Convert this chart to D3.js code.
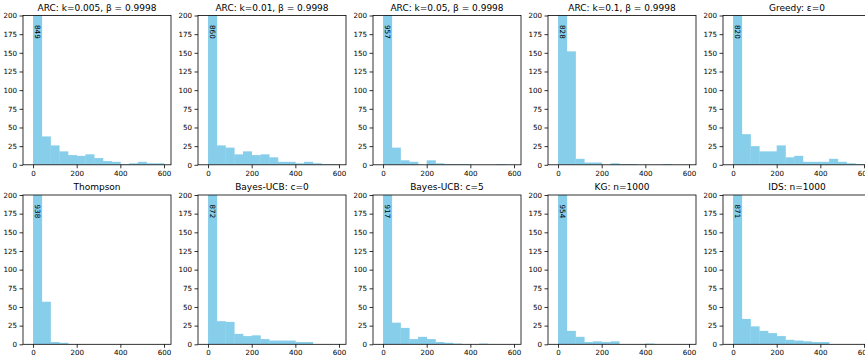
<!DOCTYPE html>
<html><head><meta charset="utf-8">
<script src="https://cdn.jsdelivr.net/npm/d3@7"></script>
<style>body{margin:0;background:#fff}svg{display:block}</style>
</head><body>
<script>
const titles = ["ARC: k=0.005, β = 0.9998","ARC: k=0.01, β = 0.9998","ARC: k=0.05, β = 0.9998","ARC: k=0.1, β = 0.9998","Greedy: ε=0",
                "Thompson","Bayes-UCB: c=0","Bayes-UCB: c=5","KG: n=1000","IDS: n=1000"];
const binEdges = [0,40,80,120,160,200,240,280,320,360,400,440,480,520,560,600];
const counts_arc_0005 = [849,38,26,18,13,12,14,9,5,4,1,2,4,2,2];
const counts_arc_001  = [860,26,23,14,18,13,14,10,4,4,2,4,2,1,1];
const counts_arc_005  = [957,23,6,4,0,6,2,1,1,1,0,0,0,1,0];
const counts_arc_01   = [828,152,8,3,3,0,2,1,1,0,0,0,1,0,0];
const counts_greedy   = [820,41,25,18,18,26,10,12,4,4,4,8,4,2,1];
const counts_thompson = [938,57,3,2,0,0,0,0,0,0,0,0,0,0,0];
const counts_bucb0    = [872,31,30,14,11,12,7,5,5,5,3,3,0,0,0];
const counts_bucb5    = [917,29,22,7,10,7,3,2,1,0,0,1,0,0,0];
const counts_kg       = [954,18,10,3,4,3,4,0,0,0,1,0,0,0,0];
const counts_ids      = [871,34,24,18,15,11,6,5,4,3,3,0,0,0,0];
const allCounts = [counts_arc_0005,counts_arc_001,counts_arc_005,counts_arc_01,counts_greedy,
                   counts_thompson,counts_bucb0,counts_bucb5,counts_kg,counts_ids];
const xTicks = [0,200,400,600];
const yTicks = [0,25,50,75,100,125,150,175,200];

const W=865,H=358;
const svg=d3.select("body").append("svg").attr("width",W).attr("height",H)
  .style("font-family","'DejaVu Sans', sans-serif");
const lefts=[23,198,373,548,723], tops=[15.5,195], pw=148, ph=149.3;
const barColor="#87ceeb";

allCounts.forEach((counts,i)=>{
  const r=Math.floor(i/5), c=i%5;
  const g=svg.append("g").attr("transform",`translate(${lefts[c]},${tops[r]})`);
  const x=d3.scaleLinear().domain([-46,632]).range([0,pw]);
  const y=d3.scaleLinear().domain([0,200]).range([ph,0]);
  const clipId="clip"+i;
  g.append("clipPath").attr("id",clipId).append("rect").attr("width",pw).attr("height",ph);
  const bins=counts.map((v,k)=>({x0:binEdges[k],x1:binEdges[k+1],v}));
  g.append("g").attr("clip-path",`url(#${clipId})`).selectAll("rect").data(bins.filter(d=>d.v>0)).join("rect")
    .attr("x",d=>x(d.x0)).attr("width",d=>x(d.x1)-x(d.x0)+0.35)
    .attr("y",d=>y(d.v)).attr("height",d=>y(0)-y(d.v)).attr("fill",barColor);
  // overflow label
  bins.filter(d=>d.v>200).forEach(d=>{
    const cx=x((d.x0+d.x1)/2), cy=9.5;
    g.append("text").attr("transform",`translate(${cx},${cy}) rotate(90)`)
      .attr("text-anchor","start").attr("dy","0.35em").attr("font-size",7.2).attr("fill","#000")
      .text(d.v);
  });
  const xa=g.append("g").attr("transform",`translate(0,${ph})`)
    .call(d3.axisBottom(x).tickValues(xTicks).tickSize(3.5).tickPadding(2.5).tickFormat(d3.format("d")));
  const ya=g.append("g").call(d3.axisLeft(y).tickValues(yTicks).tickSize(3.5).tickPadding(2.5).tickFormat(d3.format("d")));
  [xa,ya].forEach(a=>{a.select(".domain").remove();a.selectAll("line").attr("stroke","#000").attr("stroke-width",0.8);
    a.selectAll("text").attr("font-size",7.1).attr("fill","#000").attr("font-family","'DejaVu Sans', sans-serif");});
  g.append("rect").attr("width",pw).attr("height",ph).attr("fill","none").attr("stroke","#000").attr("stroke-width",0.8);
  g.append("text").attr("x",pw/2).attr("y",-5).attr("text-anchor","middle").attr("font-size",9).attr("fill","#000")
    .text(titles[i]);
});
</script>
</body></html>
